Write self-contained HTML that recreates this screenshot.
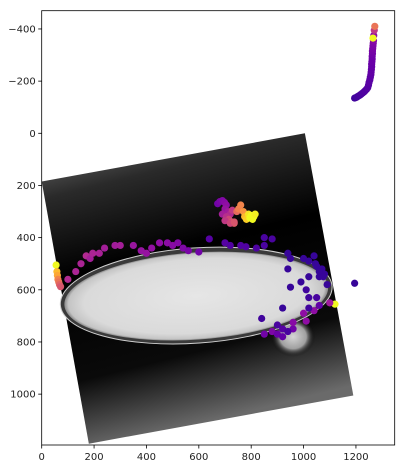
<!DOCTYPE html>
<html><head><meta charset="utf-8"><style>
html,body{margin:0;padding:0;background:#fff;}
svg{display:block;font-family:"DejaVu Sans","Liberation Sans",sans-serif;}
</style></head><body>
<svg id="chart" width="404" height="469" viewBox="0 0 404 469">
<defs>
<linearGradient id="bgGrad" x1="0" y1="0" x2="0.25" y2="1">
<stop offset="0" stop-color="#7a7a7a"/><stop offset="0.2" stop-color="#2a2a2a"/><stop offset="0.45" stop-color="#000"/><stop offset="0.78" stop-color="#0a0a0a"/><stop offset="1" stop-color="#6a6a6a"/>
</linearGradient>
<radialGradient id="embGrad" cx="0.5" cy="0.5" r="0.5">
<stop offset="0" stop-color="#e6e6e6"/><stop offset="0.85" stop-color="#dadada"/><stop offset="0.97" stop-color="#c4c4c4"/><stop offset="1" stop-color="#8a8a8a"/>
</radialGradient>
<radialGradient id="blobGrad" cx="0.5" cy="0.5" r="0.5">
<stop offset="0" stop-color="#d6d6d6"/><stop offset="0.6" stop-color="#a0a0a0"/><stop offset="1" stop-color="#000" stop-opacity="0"/>
</radialGradient>
<clipPath id="plotClip"><rect x="41.7" y="10.7" width="353" height="434.3"/></clipPath>
</defs>
<g id="imgLayer" clip-path="url(#plotClip)"></g>
<g id="pts" clip-path="url(#plotClip)"></g>
<rect x="41.7" y="10.7" width="353" height="434.3" fill="none" stroke="#000" stroke-width="0.8"/>
<g id="axes" font-size="10" fill="#222"></g>
</svg>
<script>
const xTicks=[0,200,400,600,800,1000,1200];
const yTicks=[-400,-200,0,200,400,600,800,1000];
const ptX=[1195,1200,1205,1210,1215,1220,1225,1230,1235,1240,1245,1248,1250,1253,1255,1257,1258,1259,1260,1260,1261,1262,1262,1263,1263,1264,1265,1266,1267,1268,1270,1272,1265,
 672,680,690,698,705,700,712,720,728,690,705,715,725,735,745,752,760,770,775,782,790,795,800,805,810,815,700,720,735,
 55,58,60,62,65,68,72,
 100,130,150,170,185,195,220,240,280,300,350,380,400,420,450,480,500,520,540,560,600,
 640,700,720,760,780,820,850,880,850,
 940,950,1000,1020,1040,1050,1070,1080,1060,1020,1090,940,950,990,1010,1020,1050,1060,1040,920,1020,840,900,920,960,1000,1010,960,880,850,900,920,940,1060,1075,1045,
 1195,1120,1100];
const ptY=[-135,-137,-140,-143,-146,-150,-154,-158,-163,-168,-175,-185,-195,-205,-215,-225,-235,-245,-255,-265,-275,-285,-295,-305,-315,-325,-335,-345,-355,-375,-395,-410,-365,
 270,262,258,265,275,290,300,310,295,310,320,330,340,345,300,290,275,300,320,330,310,325,315,330,320,310,335,345,340,
 505,530,545,560,570,580,588,
 560,530,500,470,480,460,460,440,430,430,430,450,460,440,420,420,430,420,440,450,455,
 405,420,430,430,435,440,400,405,430,
 460,480,480,490,470,510,520,540,550,550,580,520,590,570,600,630,630,660,680,670,670,710,735,750,750,690,720,725,760,770,770,780,760,530,550,500,
 575,655,650];
const ptC=[0.1,0.1,0.11,0.11,0.12,0.12,0.13,0.13,0.14,0.14,0.15,0.15,0.16,0.16,0.17,0.17,0.18,0.18,0.19,0.19,0.2,0.2,0.21,0.22,0.23,0.24,0.25,0.26,0.28,0.3,0.45,0.65,1.0,
 0.22,0.24,0.26,0.28,0.3,0.32,0.35,0.4,0.45,0.36,0.42,0.5,0.55,0.58,0.62,0.68,0.7,0.75,0.85,0.9,0.95,1.0,1.0,1.0,1.0,0.98,0.45,0.5,0.55,
 1.0,0.85,0.8,0.7,0.65,0.6,0.55,
 0.4,0.38,0.38,0.4,0.36,0.38,0.37,0.36,0.35,0.36,0.33,0.32,0.32,0.31,0.3,0.29,0.28,0.27,0.26,0.24,0.22,
 0.15,0.15,0.14,0.14,0.14,0.13,0.12,0.12,0.12,
 0.08,0.08,0.08,0.08,0.08,0.08,0.08,0.08,0.08,0.08,0.08,0.08,0.08,0.08,0.1,0.1,0.12,0.18,0.3,0.08,0.1,0.1,0.12,0.15,0.22,0.3,0.3,0.28,0.25,0.22,0.2,0.18,0.12,0.08,0.08,0.08,
 0.08,1.0,0.35];
const L=41.7,T=10.7,W=353,H=434.3,X0=0,X1=1348,Y0=-470,Y1=1195;
function sx(v){return L+(v-X0)/(X1-X0)*W;}
function sy(v){return T+(v-Y0)/(Y1-Y0)*H;}
const NS='http://www.w3.org/2000/svg';
function mk(tag,attrs,parent){const e=document.createElementNS(NS,tag);for(const k in attrs)e.setAttribute(k,attrs[k]);parent.appendChild(e);return e;}
const plasma=[[13,8,135],[65,4,157],[106,0,168],[143,13,164],[177,42,144],[204,71,120],[225,100,98],[242,132,75],[252,166,54],[252,206,37],[240,249,33]];
function pc(t){t=Math.max(0,Math.min(1,t))*10;const i=Math.min(9,Math.floor(t)),f=t-i;const a=plasma[i],b=plasma[i+1];return 'rgb('+a.map((v,k)=>Math.round(v+(b[k]-v)*f)).join(',')+')';}
const img=document.getElementById('imgLayer');
const corners=[[0,185],[1005,0],[1190,1005],[180,1190]];
const bg=mk('polygon',{points:corners.map(p=>sx(p[0])+','+sy(p[1])).join(' '),fill:'url(#bgGrad)'},img);


const cx=sx(590),cy=sy(622),rx=(sx(1110)-sx(70))/2,ry=(sy(805)-sy(440))/2;
const blob=mk('ellipse',{cx:sx(960),cy:sy(780),rx:22,ry:20,fill:'url(#blobGrad)'},img);


const rim=mk('ellipse',{cx:cx,cy:cy,rx:rx,ry:ry,fill:'#3a3a3a',stroke:'#d0d0d0','stroke-width':1,transform:'rotate(-4 '+cx+' '+cy+')'},img);


const emb=mk('ellipse',{cx:cx,cy:cy+0.5,rx:rx-4,ry:ry-4,fill:'url(#embGrad)',transform:'rotate(-4 '+cx+' '+cy+')'},img);


const pg=document.getElementById('pts');
for(let i=0;i<ptX.length;i++){
 const c=mk('circle',{cx:sx(ptX[i]),cy:sy(ptY[i]),r:3.6,fill:pc(ptC[i])},pg);
 
 
}
const ax=document.getElementById('axes');
xTicks.forEach(v=>{
 const x=sx(v);
 const t=mk('line',{x1:x,x2:x,y1:T+H,y2:T+H+3.5,stroke:'#000','stroke-width':0.8},ax);
 
 
 const lb=mk('text',{x:x,y:T+H+15,'text-anchor':'middle'},ax);lb.textContent=v;
 
 
});
yTicks.forEach(v=>{
 const y=sy(v);
 const t=mk('line',{x1:L-3.5,x2:L,y1:y,y2:y,stroke:'#000','stroke-width':0.8},ax);
 
 
 const lb=mk('text',{x:L-6,y:y+3.5,'text-anchor':'end'},ax);lb.textContent=v<0?'\u2212'+(-v):v;
 
 
});
</script>
</body></html>
